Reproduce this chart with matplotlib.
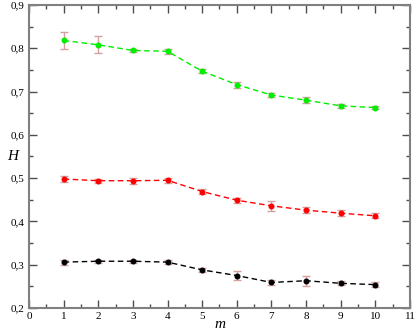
import numpy as np
import matplotlib.pyplot as plt
from matplotlib.ticker import MultipleLocator, FuncFormatter

#data
m = [1, 2, 3, 4, 5, 6, 7, 8, 9, 10]
h_green = [0.818, 0.808, 0.795, 0.793, 0.747, 0.716, 0.692, 0.680, 0.667, 0.663]
e_green = [0.020, 0.020, 0.004, 0.006, 0.004, 0.007, 0.005, 0.007, 0.004, 0.003]
h_red = [0.498, 0.494, 0.494, 0.495, 0.469, 0.449, 0.436, 0.426, 0.419, 0.413]
e_red = [0.006, 0.005, 0.007, 0.006, 0.005, 0.006, 0.012, 0.007, 0.007, 0.006]
h_black = [0.306, 0.308, 0.308, 0.306, 0.288, 0.275, 0.259, 0.263, 0.257, 0.254]
e_black = [0.006, 0.004, 0.004, 0.004, 0.005, 0.011, 0.006, 0.012, 0.005, 0.006]

plt.rcParams['font.family'] = ['Liberation Serif', 'DejaVu Serif']

f = plt.figure(figsize=(4.15, 3.32), dpi=100)
ax = f.add_axes([0.0699, 0.0723, 0.918, 0.9127])

for y, e, c in [(h_green, e_green, '#00ee00'), (h_red, e_red, '#ff0000'), (h_black, e_black, 'k')]:
    ax.errorbar(m, y, yerr=e, fmt='none', ecolor='#d4a0a0', elinewidth=1.0, capsize=3, capthick=1.0, zorder=2)
    ax.plot(m, y, '--', color=c, lw=1.0, dashes=(4, 2.5), marker='o', ms=3.3, zorder=3)

ax.set_xlim(0, 11)
ax.set_ylim(0.2, 0.9)
ax.xaxis.set_major_locator(MultipleLocator(1))
ax.xaxis.set_minor_locator(MultipleLocator(0.5))
ax.yaxis.set_major_locator(MultipleLocator(0.1))
ax.yaxis.set_minor_locator(MultipleLocator(0.05))
ax.yaxis.set_major_formatter(FuncFormatter(lambda v, p: ('%.1f' % v).replace('.', ',')))
ax.tick_params(which='both', direction='in', top=True, right=True, labelsize=8, color='0.3', pad=3)
ax.tick_params(which='major', length=6, width=1)
ax.tick_params(which='minor', length=3, width=1)
for s in ax.spines.values():
    s.set_color('0.5')
    s.set_linewidth(1.5)

ax.set_xlabel('m', fontsize=11, style='italic', labelpad=-2)
ax.set_ylabel('H', fontsize=11, style='italic', rotation=0, labelpad=-1, va='center')

f.savefig('out.png', dpi=100)
